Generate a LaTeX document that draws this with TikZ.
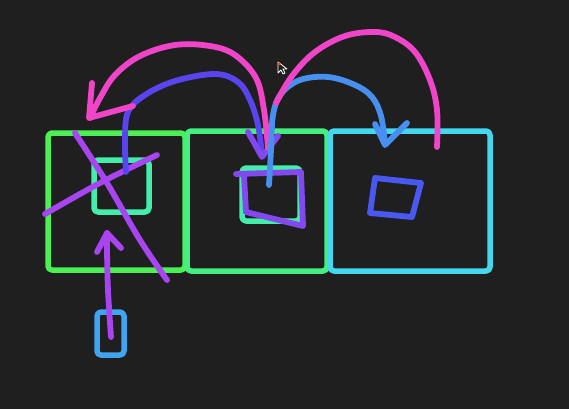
\documentclass[tikz,border=0pt]{standalone}
\begin{document}
\definecolor{bg}{HTML}{1F1F1F}
\definecolor{gone}{HTML}{4CF055}
\definecolor{gtwo}{HTML}{44EE80}
\definecolor{cyanb}{HTML}{44D8F0}
\definecolor{teal}{HTML}{44EEAA}
\definecolor{magen}{HTML}{F045C8}
\definecolor{purp}{HTML}{A844F0}
\definecolor{indig}{HTML}{5A44F0}
\definecolor{violet}{HTML}{8448F0}
\definecolor{bluel}{HTML}{4890F0}
\definecolor{blueq}{HTML}{4858F0}
\definecolor{bluesm}{HTML}{40A4F0}
\begin{tikzpicture}[x=1pt,y=-1pt,line cap=round,line join=round,
  stroke/.style={line width=5.8pt},
  boxs/.style={line width=5.5pt,rounded corners=4pt}]
\fill[bg] (0,0) rectangle (569,409);
% big boxes
\draw[boxs,gone] (48,133) rectangle (185,270);
\draw[boxs,gtwo] (187,131) rectangle (327,271);
\draw[boxs,cyanb] (330,131) rectangle (490,271);
% inner boxes
\draw[boxs,teal] (94,160) rectangle (149,212);
\draw[boxs,teal] (242,168) rectangle (300,221);
\draw[boxs,bluesm] (97,312) rectangle (124,355);
% quads
\draw[stroke,violet] (236,174) -- (301,172) -- (303,226) -- (246,212) -- (244,176);
\draw[stroke,blueq] (375,178) -- (421,183) -- (412,217) -- (370,213) -- cycle;
% X
\draw[stroke,purp] plot[smooth,tension=0.6] coordinates {(75,133) (107,183) (140,240) (167,280)};
\draw[stroke,purp] plot[smooth,tension=0.6] coordinates {(45,214) (100,183) (157,155)};
% up arrow
\draw[stroke,purp] plot[smooth,tension=0.6] coordinates {(111,337) (108,290) (107,250) (107,233)};
\draw[stroke,purp] (97,252) -- (107,233) -- (121,248);
% indigo arrow
\draw[stroke,indig] plot[smooth,tension=0.6] coordinates {(126,172) (125,140) (128,112) (145,95) (175,81) (215,74) (238,82) (250,100) (258,125) (262,155)};
\draw[stroke,violet] (248,132) -- (262,157) -- (278,136);
% magenta arrow 1
\draw[stroke,magen] plot[smooth,tension=0.6] coordinates {(268,148) (264,110) (256,78) (235,55) (210,46) (175,45) (140,56) (115,75) (100,98) (90,118)};
\draw[stroke,magen] (92,83) -- (89,118) -- (133,106);
% blue arrow
\draw[stroke,bluel] plot[smooth,tension=0.6] coordinates {(269,185) (271,150) (273,115) (281,94) (300,80) (328,77) (355,85) (372,97) (381,116) (385,143)};
\draw[stroke,bluel] (375,124) -- (385,145) -- (407,123);
% magenta arrow 2
\draw[stroke,magen] plot[smooth,tension=0.6] coordinates {(437,147) (437,110) (430,80) (415,52) (395,37) (375,32) (345,36) (315,52) (292,76) (276,103)};
% cursor
\filldraw[fill=bg,draw=white,line width=0.8pt] (278,62) -- (278,73) -- (281,70) -- (283,74) -- (285,73) -- (283,69) -- (287,69) -- cycle;
\fill[red!80!white] (279,64) circle (1.6pt);
\end{tikzpicture}
\end{document}
